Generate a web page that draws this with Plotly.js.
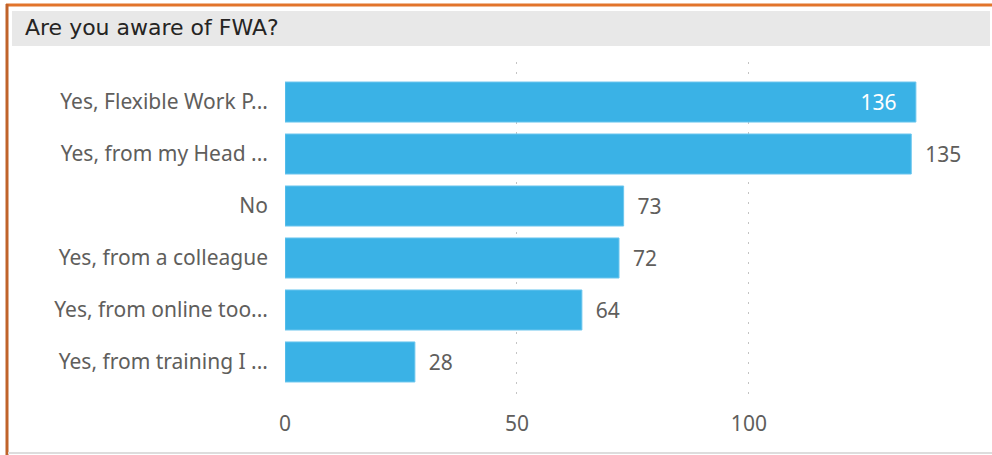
<!DOCTYPE html>
<html><head><meta charset="utf-8">
<script src="https://cdn.plot.ly/plotly-3.0.1.min.js"></script>
<style>html,body{margin:0;padding:0;background:#fff;}#c{width:992px;height:455px;}</style>
</head><body><div id="c"></div>
<script>
const categories = ["Yes, Flexible Work P...", "Yes, from my Head ...", "No", "Yes, from a colleague", "Yes, from online too...", "Yes, from training I ..."];
const counts = [136, 135, 73, 72, 64, 28];
const xTicks = [0, 50, 100];
const titleText = "Are you aware of FWA?";

const L = 285, R = 39, T = 62, B = 53, W = 992, H = 455;
const pw = W - L - R, ph = H - T - B;
const px = x => (x - L) / pw;
const py = y => (H - B - y) / ph;

const textPos = counts.map((v, i) => i === 0 ? 'inside' : 'outside');
const textTpl = counts.map((v, i) => i === 0 ? '%{x}\u00a0\u00a0\u00a0' : '\u00a0\u00a0%{x}');

const trace = {
  type: 'bar', orientation: 'h',
  x: counts, y: categories,
  marker: {color: '#3AB2E6', line: {color: '#6CC6EE', width: 1}},
  width: 0.77,
  text: counts.map(String),
  texttemplate: textTpl,
  textposition: textPos,
  insidetextanchor: 'end',
  insidetextfont: {color: '#ffffff', size: 21, family: 'Noto Sans, sans-serif'},
  outsidetextfont: {color: '#605E5C', size: 21, family: 'Noto Sans, sans-serif'},
  cliponaxis: false,
  hoverinfo: 'none'
};

const layout = {
  width: W, height: H,
  margin: {l: L, r: R, t: T, b: B, pad: 0},
  paper_bgcolor: '#ffffff', plot_bgcolor: '#ffffff',
  showlegend: false,
  font: {family: 'Noto Sans, sans-serif', color: '#605E5C', size: 21},
  xaxis: {
    range: [0, 144], tickvals: xTicks, ticktext: xTicks.map(String),
    showgrid: true, gridcolor: '#C4C4C4', griddash: '2px,8px', gridwidth: 1,
    zeroline: false, showline: false, ticks: '', ticklabelstandoff: 7,
    tickfont: {size: 21, color: '#605E5C'}, fixedrange: true
  },
  yaxis: {
    type: 'category', categoryorder: 'array', categoryarray: categories,
    range: [5.77, -0.77], showgrid: false, zeroline: false, showline: false,
    ticks: '', ticklabelstandoff: 16,
    tickfont: {size: 21, color: '#605E5C'}, fixedrange: true
  },
  shapes: [
    {type: 'rect', xref: 'paper', yref: 'paper', x0: px(12), x1: px(990), y0: py(46), y1: py(11), fillcolor: '#E8E8E8', line: {width: 0}, layer: 'below'},
    {type: 'line', xref: 'paper', yref: 'paper', x0: px(6), x1: px(992), y0: py(5), y1: py(5), line: {color: '#E2742B', width: 3}},
    {type: 'line', xref: 'paper', yref: 'paper', x0: px(7), x1: px(7), y0: py(4), y1: py(455), line: {color: '#C0632A', width: 3}},
    {type: 'line', xref: 'paper', yref: 'paper', x0: px(8), x1: px(992), y0: py(453), y1: py(453), line: {color: '#DDDDDD', width: 2}}
  ],
  annotations: [
    {xref: 'paper', yref: 'paper', x: px(23), y: py(28), xanchor: 'left', yanchor: 'middle', showarrow: false,
     text: titleText, font: {family: 'DejaVu Sans, sans-serif', size: 22, color: '#252423'}}
  ]
};

Plotly.newPlot('c', [trace], layout, {displayModeBar: false, staticPlot: true});
</script></body></html>
